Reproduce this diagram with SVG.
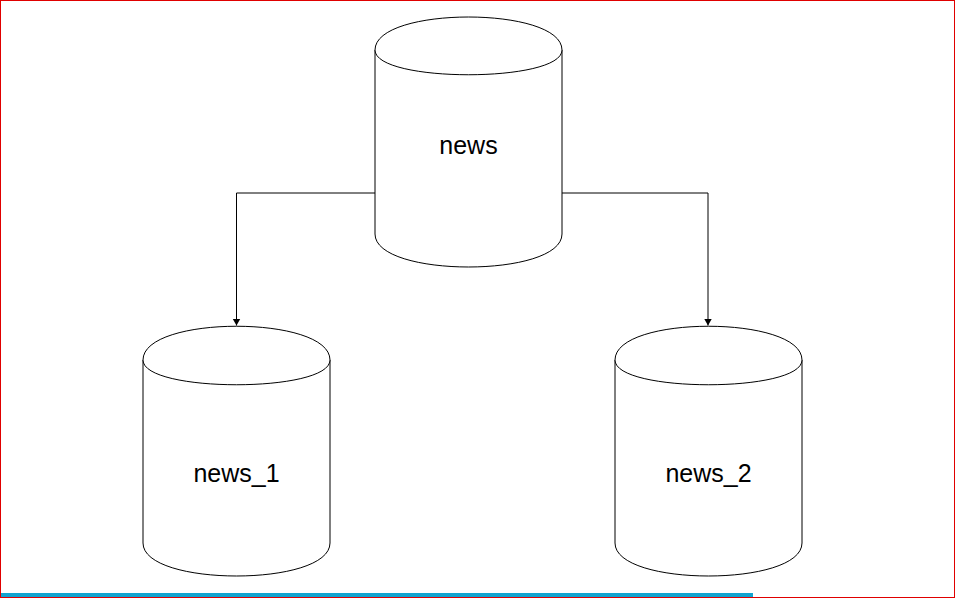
<svg xmlns="http://www.w3.org/2000/svg" width="955" height="598" viewBox="0 0 955 598">
<style>
.cyl{fill:#ffffff;stroke:#000000;stroke-width:1}
.conn{fill:none;stroke:#000000;stroke-width:1}
.lbl{font-family:"Liberation Sans",Arial,sans-serif;font-size:25px;fill:#000000;text-anchor:middle}
</style>
<defs>
<marker id="arr" markerWidth="8" markerHeight="10" refX="7" refY="4" orient="auto" markerUnits="userSpaceOnUse" viewBox="0 0 8 8">
<path d="M0,0 L7,4 L0,8 Z" fill="#000000"/>
</marker>
</defs>
<rect x="0.5" y="0.5" width="954" height="597" fill="#ffffff" stroke="#e00000" stroke-width="1"/>
<rect x="1" y="593" width="752" height="4" fill="#12a3cf"/>
<g id="connectors">
<path class="conn" d="M375,193 H236.5 V325.5" marker-end="url(#arr)"/>
<path class="conn" d="M562,193 H708 V325.5" marker-end="url(#arr)"/>
</g>
<g id="news">
<path class="cyl" d="M375,50 C375,6 562,6 562,50 L562,234 C562,278 375,278 375,234 Z"/>
<path class="cyl" fill="none" d="M375,50 C375,83 562,83 562,50"/>
<text class="lbl" x="468.5" y="153.5">news</text>
</g>
<g id="news_1">
<path class="cyl" d="M143,360 C143,315 330,315 330,360 L330,543 C330,587 143,587 143,543 Z"/>
<path class="cyl" d="M143,360 C143,393 330,393 330,360"/>
<text class="lbl" x="236.5" y="481.5">news_1</text>
</g>
<g id="news_2">
<path class="cyl" d="M615,360 C615,315 802,315 802,360 L802,543 C802,587 615,587 615,543 Z"/>
<path class="cyl" d="M615,360 C615,393 802,393 802,360"/>
<text class="lbl" x="708.5" y="481.5">news_2</text>
</g>
</svg>
